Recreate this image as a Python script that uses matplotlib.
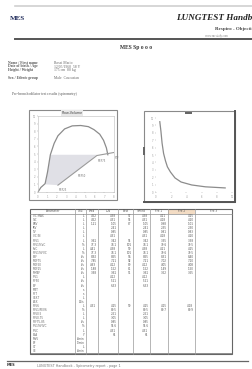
import matplotlib
matplotlib.use("Agg")
import matplotlib.pyplot as plt
from matplotlib.patches import Rectangle

W, H = 253, 369

# ---------------- data ----------------
fv_volume = [0.0, 0.3, 0.75, 1.0, 1.3, 1.7, 2.1, 2.8, 3.6, 4.5, 5.3, 5.9, 6.5, 6.9, 7.2, 7.35]
fv_flow   = [0.0, 0.6, 1.1, 2.6, 4.9, 6.4, 7.4, 8.3, 8.7, 8.75, 8.6, 8.2, 7.6, 6.8, 5.8, 4.9]
pred_volume = [2.1, 4.1, 6.2, 8.0]
pred_flow   = [0.9, 2.8, 4.8, 5.2]
pred_labels = ["MEF25", "MEF50", "MEF75", "PEF"]
shade_volume = [0.8, 1.3, 6.2, 4.1, 2.1]
shade_flow   = [1.0, 4.9, 4.9, 2.8, 0.9]

vt_time   = [0.5, 0.65, 0.8, 1.0, 1.25, 1.5, 1.9, 2.5, 3.3, 4.7, 6.5, 9.1]
vt_volume = [9.5, 8.2, 6.6, 5.2, 4.2, 3.4, 2.7, 1.9, 1.35, 0.95, 0.7, 0.55]

info_labels = ["Name / First name", "Date of birth / Age", "Height / Weight", "Sex / Ethnic group"]
info_values = ["Rossi Mario", "12/05/1960  58 Y", "175 cm  80 kg", "Male  Caucasian"]

table_header = ["Parameter", "Unit", "Pred", "LLN", "Best", "%Pred", "Pre 1", "Pre 2", "Pre 3"]
parameters = ["VC MAX", "IVC", "ERV", "IRV", "TV", "VC IN", "FEV1", "FEV1%VC", "FVC",
              "FEV1%FVC", "PEF", "MEF75", "MEF50", "MEF25", "MMEF", "FIV1", "FIF50",
              "PIF", "MTT", "FET", "VEXT", "AEX", "FEV6", "FEV1/FEV6", "FEV0.5",
              "FEV0.75", "FEF75-85", "FIV1%FIVC", "FIVC", "ELA", "MVV", "BF", "VT", "VE"]
units = ["L", "L", "L", "L", "L", "L", "L", "%", "L", "%", "L/s", "L/s", "L/s", "L/s",
         "L/s", "L", "L/s", "L/s", "s", "s", "L", "L2/s", "L", "%", "L", "L", "L/s",
         "%", "L", "Y", "L/min", "1/min", "L", "L/min"]
pred = ["4.52", "4.52", "1.21", "", "", "", "3.61", "77.3", "4.41", "77.3", "8.92",
        "7.85", "4.63", "1.88", "3.98", "", "", "", "", "", "", "", "4.31", "", "",
        "", "", "", "", "", "", "", "", ""]
best = ["4.38", "4.31", "1.05", "2.41", "0.85", "4.31", "3.42", "78.1", "4.38", "78.1",
        "8.55", "7.21", "4.12", "1.52", "3.61", "4.12", "5.21", "6.33", "", "", "",
        "", "4.25", "80.5", "2.51", "3.05", "0.85", "95.6", "4.31", "61", "", "", "", ""]
pct = ["97", "95", "87", "", "", "", "95", "101", "99", "101", "96", "92", "89", "81",
       "91", "", "", "", "", "", "", "", "99", "", "", "", "", "", "", "", "", "", "", ""]
pre1 = ["4.38", "4.31", "1.05", "2.41", "0.85", "4.31", "3.42", "78.1", "4.38", "78.1",
        "8.55", "7.21", "4.12", "1.52", "3.61", "4.12", "5.21", "6.33", "", "", "", "",
        "4.25", "80.5", "2.51", "3.05", "0.85", "95.6", "4.31", "61", "", "", "", ""]
pre2 = ["4.21", "4.18", "0.98", "2.35", "0.81", "4.18", "3.35", "79.6", "4.21", "79.6",
        "8.31", "7.02", "4.05", "1.49", "3.52", "", "", "", "", "", "", "", "4.15", "80.7",
        "", "", "", "", "", "", "", "", "", ""]
pre3 = ["4.25", "4.20", "1.01", "2.30", "0.83", "4.20", "3.38", "79.5", "4.25", "79.5",
        "8.40", "7.10", "4.08", "1.50", "3.55", "", "", "", "", "", "", "", "4.18", "80.9",
        "", "", "", "", "", "", "", "", "", ""]

# ---------------- figure ----------------
fig = plt.figure(figsize=(W / 100, H / 100), dpi=100)
fig.patch.set_facecolor("white")
ov = fig.add_axes([0, 0, 1, 1])
ov.set_xlim(0, W)
ov.set_ylim(H, 0)
ov.axis("off")

serif = ["Liberation Serif", "DejaVu Serif"]

def px_axes(x0, y0, x1, y1):
    return fig.add_axes([x0 / W, 1 - y1 / H, (x1 - x0) / W, (y1 - y0) / H])

# header
ov.plot([15, 253], [6, 6], color="#d0d0d0", lw=1.2)
ov.text(10, 19, "MES", fontsize=5, fontweight="bold", color="#1f2a5a", va="center", family=serif)
ov.text(252, 18, "LUNGTEST Handb", fontsize=6.6, fontweight="bold", fontstyle="italic",
        color="#222222", va="center", ha="right", family=serif)
ov.text(252, 29, "Respiro - Objecti", fontsize=3.6, fontweight="bold",
        color="#444444", va="center", ha="right", family=serif)
ov.plot([15, 253], [39, 39], color="#555555", lw=1.4)
ov.text(205, 37.5, "www.mesitaly.com", fontsize=2.2, color="#888888", va="bottom", family=serif)
ov.text(136, 48, "MES Sp o o o", fontsize=4, fontweight="bold", color="#333333",
        ha="center", va="center", family=serif)

for i, (lab, val) in enumerate(zip(info_labels, info_values)):
    y = [63, 66.5, 70, 78][i]
    ov.text(8, y, lab, fontsize=2.7, fontweight="bold", color="#555555", va="center", family=serif)
    ov.text(54, y, val, fontsize=2.7, color="#666666", va="center", family=serif)
ov.text(12, 94, "Pre-bronchodilator test results (spirometry)", fontsize=2.7,
        color="#555555", va="center", family=serif)

# ---------------- flow-volume chart ----------------
ov.add_patch(Rectangle((29, 110), 88, 90, fill=False, edgecolor="#8a8a8a", lw=0.8))
ov.text(72, 113, "Flow-Volume", fontsize=2.4, color="#444444", ha="center", va="center",
        bbox=dict(boxstyle="square,pad=0.2", fc="#e8e8e8", ec="none"))
ax1 = px_axes(38, 116, 114, 192)
ax1.set_xlim(0, 8)
ax1.set_ylim(0, 10)
ax1.fill(shade_volume, shade_flow, color="#e0e0e6", lw=0)
ax1.plot(fv_volume, fv_flow, color="#8c8c8c", lw=0.9)
ax1.plot(pred_volume, pred_flow, color="#9a9a9a", lw=0.8)
for v, f, t in zip(pred_volume, pred_flow, pred_labels):
    ax1.text(v + 0.1, f - 0.4, t, fontsize=1.8, color="#777777", va="top")
ax1.set_xticks(range(0, 9))
ax1.set_yticks(range(0, 11))
ax1.tick_params(labelsize=1.8, length=1, width=0.3, colors="#999999", pad=0.8)
for s in ax1.spines.values():
    s.set_color("#bbbbbb")
    s.set_linewidth(0.4)
ax1.patch.set_alpha(0)

# ---------------- volume-time chart ----------------
ov.add_patch(Rectangle((144, 111), 91, 91, fill=False, edgecolor="#8a8a8a", lw=0.8))
ov.plot([235, 235], [111, 202], color="#555555", lw=1.4)
ov.plot([144, 235], [202, 202], color="#555555", lw=1.4)
ov.add_patch(Rectangle((185, 111.5), 7, 2.2, color="#666666", lw=0))
ov.add_patch(Rectangle((143.5, 147), 2, 8, color="#666666", lw=0))
ax2 = px_axes(156, 118, 232, 192)
ax2.set_xlim(0, 10)
ax2.set_ylim(0, 10)
ax2.plot(vt_time, vt_volume, color="#8c8c8c", lw=0.9)
ax2.set_xticks(range(0, 11, 2))
ax2.set_yticks(range(0, 11))
ax2.tick_params(labelsize=1.8, length=1, width=0.3, colors="#999999", pad=0.8)
for s in ax2.spines.values():
    s.set_visible(False)
ax2.patch.set_alpha(0)

# ---------------- table ----------------
col_x = [30, 75, 86, 98, 118, 133, 150, 168, 195, 232]
top, bottom = 209, 354
head_h = 5
n = len(parameters)
row_h = (bottom - top - head_h - 1) / n
ov.add_patch(Rectangle((col_x[7], top), col_x[8] - col_x[7], head_h, color="#f3dcc4", lw=0))
ov.add_patch(Rectangle((col_x[0], top), col_x[-1] - col_x[0], bottom - top, fill=False,
                       edgecolor="#666666", lw=0.8))
ov.plot([col_x[0], col_x[-1]], [top + head_h, top + head_h], color="#888888", lw=0.5)
ov.plot([col_x[0], col_x[-1]], [bottom - 1.3, bottom - 1.3], color="#666666", lw=0.5)
for x in col_x[1:-1]:
    ov.plot([x, x], [top, bottom], color="#999999", lw=0.5)
for j, h in enumerate(table_header):
    ov.text((col_x[j] + col_x[j + 1]) / 2, top + head_h / 2, h, fontsize=2.0,
            color="#555555", ha="center", va="center")
cols = [units, pred, best, pct, pre1, pre2, pre3]
for i, p in enumerate(parameters):
    y = top + head_h + (i + 0.5) * row_h
    ov.text(col_x[0] + 3, y, p, fontsize=2.0, color="#666666", va="center")
    for j, col in enumerate(cols):
        if col[i]:
            ov.text(col_x[j + 2] - 1.5, y, col[i], fontsize=2.0, color="#555555",
                    ha="right", va="center")

# footer
ov.plot([7, 248], [361, 361], color="#666666", lw=0.9)
ov.text(7, 365.5, "MES", fontsize=2.6, fontweight="bold", color="#333333", va="center")
ov.text(37, 365.5, "LUNGTEST Handbook - Spirometry report - page 1", fontsize=2.4,
        color="#777777", va="center")

fig.savefig("out.png", dpi=100, facecolor="white")
